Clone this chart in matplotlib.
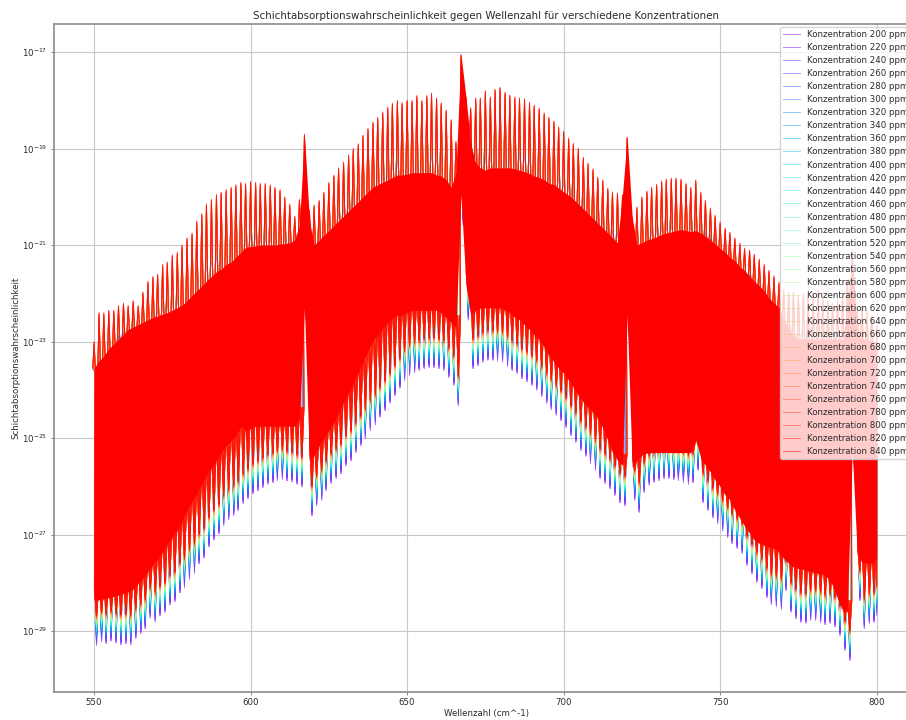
import numpy as np
import matplotlib
matplotlib.use("Agg")
import matplotlib.pyplot as plt

# concentrations in ppm
concentrations = [200, 220, 240, 260, 280, 300, 320, 340, 360, 380, 400,
                  420, 440, 460, 480, 500, 520, 540, 560, 580, 600, 620,
                  640, 660, 680, 700, 720, 740, 760, 780, 800, 820, 840]

# absorption lines, wavenumber in cm^-1
wavenumbers = [550.0, 551.6, 553.1, 554.7, 556.3, 557.8, 559.4, 560.9,
               562.5, 564.1, 565.6, 567.2, 568.8, 570.3, 571.9, 573.4,
               575.0, 576.6, 578.1, 579.7, 581.3, 582.8, 584.4, 585.9,
               587.5, 589.1, 590.6, 592.2, 593.8, 595.3, 596.9, 598.4,
               600.0, 601.6, 603.1, 604.7, 606.3, 607.8, 609.4, 610.9,
               612.5, 614.1, 615.6, 617.2, 618.8, 620.3, 621.9, 623.4,
               625.0, 626.6, 628.1, 629.7, 631.3, 632.8, 634.4, 635.9,
               637.5, 639.1, 640.6, 642.2, 643.8, 645.3, 646.9, 648.4,
               650.0, 651.6, 653.1, 654.7, 656.3, 657.8, 659.4, 660.9,
               662.5, 664.1, 665.6, 667.2, 668.8, 670.3, 671.9, 673.4,
               675.0, 676.6, 678.1, 679.7, 681.3, 682.8, 684.4, 685.9,
               687.5, 689.1, 690.6, 692.2, 693.8, 695.3, 696.9, 698.4,
               700.0, 701.6, 703.1, 704.7, 706.3, 707.8, 709.4, 710.9,
               712.5, 714.1, 715.6, 717.2, 718.8, 720.3, 721.9, 723.4,
               725.0, 726.6, 728.1, 729.7, 731.3, 732.8, 734.4, 735.9,
               737.5, 739.1, 740.6, 742.2, 743.8, 745.3, 746.9, 748.4,
               750.0, 751.6, 753.1, 754.7, 756.3, 757.8, 759.4, 760.9,
               762.5, 764.1, 765.6, 767.2, 768.8, 770.3, 771.9, 773.4,
               775.0, 776.6, 778.1, 779.7, 781.3, 782.8, 784.4, 785.9,
               787.5, 789.1, 790.6, 792.2, 793.8, 795.3, 796.9, 798.4,
               800.0]

# log10 of the line tops at 840 ppm
peak_840 = [-23.0, -22.4, -22.4, -22.35, -22.35, -22.25, -22.2, -22.25, -22.15, -22.25,
            -21.97, -21.75, -21.65, -21.6, -21.4, -21.35, -21.2, -21.15, -21.0, -20.85,
            -20.75, -20.5, -20.35, -20.15, -20.05, -19.95, -19.9, -19.85, -19.8, -19.75,
            -19.7, -19.72, -19.68, -19.7, -19.72, -19.72, -19.75, -19.8, -19.85, -20.0,
            -20.15, -20.4, -20.05, -18.7, -20.27, -20.17, -20.07, -19.9, -19.7, -19.55,
            -19.4, -19.28, -19.13, -19.0, -18.9, -18.72, -18.58, -18.45, -18.35, -18.24,
            -18.14, -18.06, -18.0, -18.05, -18.0, -18.0, -17.9, -18.0, -17.9, -17.85,
            -17.95, -18.05, -18.2, -18.4, -18.85, -17.05, -17.93, -18.15, -17.95, -17.95,
            -17.8, -17.93, -17.77, -17.73, -17.83, -17.89, -17.93, -17.95, -17.97, -18.04,
            -18.1, -18.16, -18.26, -18.35, -18.43, -18.55, -18.64, -18.78, -18.89, -18.99,
            -19.18, -19.3, -19.42, -19.59, -19.65, -19.82, -19.9, -19.92, -19.96, -18.76,
            -20.42, -20.21, -20.0, -19.88, -19.8, -19.74, -19.67, -19.63, -19.61, -19.61,
            -19.63, -19.72, -19.8, -19.65, -19.9, -20.07, -20.23, -20.38, -20.52, -20.65,
            -20.73, -20.85, -20.96, -21.06, -21.1, -21.19, -21.29, -21.4, -21.52, -21.64,
            -21.77, -21.93, -21.97, -21.97, -22.04, -22.0, -22.04, -21.97, -21.93, -22.08,
            -22.14, -22.2, -22.14, -22.04, -21.73, -21.1, -22.35, -22.24, -22.35, -22.45,
            -22.66]

# log10 of the upper edge of the closed red band
band_top_log = [-23.55, -23.4, -23.3, -23.15, -23.05, -22.95, -22.85, -22.75, -22.7, -22.65,
                -22.6, -22.55, -22.5, -22.47, -22.43, -22.4, -22.35, -22.3, -22.25, -22.15,
                -22.05, -21.95, -21.85, -21.75, -21.65, -21.55, -21.5, -21.4, -21.35, -21.25,
                -21.15, -21.05, -21.03, -21.02, -21.0, -21.0, -21.0, -21.0, -20.98, -20.97,
                -20.95, -20.9, -20.6, -18.7, -20.5, -21.0, -20.9, -20.8, -20.7, -20.6,
                -20.5, -20.4, -20.3, -20.2, -20.1, -20.0, -19.9, -19.8, -19.75, -19.7,
                -19.65, -19.6, -19.55, -19.55, -19.53, -19.5, -19.5, -19.5, -19.5, -19.5,
                -19.55, -19.57, -19.65, -19.8, -19.5, -17.05, -17.93, -18.9, -19.3, -19.4,
                -19.45, -19.4, -19.4, -19.4, -19.4, -19.4, -19.42, -19.45, -19.48, -19.52,
                -19.57, -19.6, -19.65, -19.72, -19.75, -19.82, -19.9, -19.97, -20.05, -20.15,
                -20.25, -20.35, -20.45, -20.55, -20.65, -20.75, -20.85, -20.95, -19.95, -18.76,
                -20.42, -21.0, -20.95, -20.9, -20.87, -20.83, -20.78, -20.75, -20.73, -20.7,
                -20.68, -20.7, -20.72, -20.7, -20.75, -20.82, -20.9, -20.98, -21.07, -21.15,
                -21.25, -21.33, -21.45, -21.53, -21.65, -21.75, -21.85, -21.95, -22.1, -22.2,
                -22.3, -22.55, -22.72, -22.87, -22.95, -22.95, -22.95, -22.95, -22.95, -22.95,
                -22.95, -22.95, -22.95, -22.95, -22.3, -21.15, -22.8, -22.95, -22.95, -23.0,
                -23.0]

# log10 of the lower edge of the closed red band
band_low_log = [-28.35, -28.35, -28.33, -28.3, -28.28, -28.25, -28.22, -28.18, -28.12, -28.0,
                -27.9, -27.75, -27.62, -27.5, -27.35, -27.2, -27.05, -26.9, -26.7, -26.5,
                -26.3, -26.15, -25.95, -25.75, -25.6, -25.45, -25.3, -25.15, -25.05, -24.95,
                -24.75, -24.85, -24.8, -24.75, -24.75, -24.75, -24.75, -24.75, -24.75, -24.75,
                -24.75, -24.75, -24.6, -22.3, -25.46, -25.35, -25.15, -25.0, -24.83, -24.67,
                -24.46, -24.25, -24.05, -23.84, -23.63, -23.42, -23.18, -22.97, -22.87, -22.72,
                -22.6, -22.51, -22.45, -22.45, -22.4, -22.35, -22.35, -22.35, -22.35, -22.35,
                -22.35, -22.4, -22.5, -22.6, -22.7, -19.96, -21.83, -22.45, -22.35, -22.3,
                -22.3, -22.3, -22.3, -22.3, -22.35, -22.4, -22.5, -22.55, -22.65, -22.75,
                -22.85, -22.95, -23.11, -23.28, -23.42, -23.55, -23.65, -23.8, -23.94, -24.11,
                -24.25, -24.36, -24.46, -24.58, -24.79, -25.04, -25.29, -25.46, -25.56, -22.45,
                -25.6, -25.46, -25.35, -25.31, -25.3, -25.3, -25.3, -25.3, -25.3, -25.3,
                -25.3, -25.3, -25.3, -25.04, -25.41, -25.56, -25.7, -25.87, -26.0, -26.18,
                -26.28, -26.49, -26.66, -26.82, -26.97, -27.11, -27.18, -27.22, -27.26, -27.28,
                -27.36, -27.49, -27.59, -27.67, -27.7, -27.72, -27.75, -27.78, -27.8, -27.82,
                -27.9, -28.05, -28.32, -28.56, -28.6, -25.25, -27.42, -27.57, -27.59, -27.59,
                -27.49]

# log10 of the deepest points at 200 ppm
trough_200 = [-29.3, -29.22, -29.25, -29.2, -29.24, -29.27, -29.25, -29.28, -29.15, -29.05,
              -28.95, -28.72, -28.8, -28.68, -28.6, -28.45, -28.38, -28.2, -28.1, -27.92,
              -27.8, -27.6, -27.48, -27.25, -27.1, -26.98, -26.8, -26.68, -26.6, -26.5,
              -26.35, -26.25, -26.15, -26.08, -26.02, -25.95, -25.92, -25.88, -25.85, -25.88,
              -25.9, -25.95, -26.0, -22.91, -26.6, -26.39, -26.28, -26.08, -25.93, -25.83,
              -25.73, -25.56, -25.46, -25.29, -25.15, -25.0, -24.83, -24.71, -24.56, -24.42,
              -24.27, -24.11, -23.96, -23.8, -23.69, -23.63, -23.59, -23.55, -23.53, -23.53,
              -23.55, -23.59, -23.74, -23.9, -24.32, -20.59, -22.55, -23.55, -23.49, -23.42,
              -23.38, -23.38, -23.4, -23.42, -23.51, -23.59, -23.65, -23.76, -23.82, -23.9,
              -24.0, -24.13, -24.27, -24.4, -24.52, -24.63, -24.77, -24.94, -25.08, -25.25,
              -25.37, -25.52, -25.66, -25.83, -25.93, -26.04, -26.18, -26.33, -26.39, -23.18,
              -26.28, -26.53, -26.12, -25.97, -25.91, -25.87, -25.83, -25.83, -25.85, -25.87,
              -25.91, -25.95, -25.92, -25.66, -26.33, -26.49, -26.64, -26.76, -26.91, -27.05,
              -27.18, -27.28, -27.38, -27.63, -27.8, -27.98, -28.11, -28.3, -28.44, -28.48,
              -28.54, -28.15, -28.6, -28.73, -28.81, -28.83, -28.77, -28.77, -28.81, -28.86,
              -28.83, -28.9, -29.08, -29.39, -29.6, -25.87, -28.36, -28.94, -28.83, -28.81,
              -28.67]

x_ticks = [550, 600, 650, 700, 750, 800]
y_ticks = [1e-29, 1e-27, 1e-25, 1e-23, 1e-21, 1e-19, 1e-17]

x = np.array(wavenumbers)
peak = 10.0 ** np.array(peak_840)
band_top = 10.0 ** np.array(band_top_log)
band_low = 10.0 ** np.array(band_low_log)
trough = 10.0 ** np.array(trough_200)


def spectrum(conc):
    # every line cell: narrow top above the band, then a wedge down to the deepest point
    xs = []
    ys = []
    half = 0.68 * (0.4 + 0.6 * conc / 840)     # wedges of the low concentrations stay inside
    for i in range(len(x) - 1):
        t = trough[i] * conc / 200
        left = min(band_top[i], band_top[i - 1]) if i > 0 else band_top[i]
        right = min(band_top[i], band_top[i + 1])
        root = band_low[i] * 1.7               # start a little inside the band
        mid = x[i] + 0.78
        xs += [x[i] - 0.39, x[i], x[i] + 0.39, mid - half, mid, mid - half / 2,
               mid, mid + half / 2, mid, mid + half]
        ys += [left, peak[i] * conc / 840, right, root, t, root, t, root, t, root]
    xs += [x[-1], x[-1]]
    ys += [peak[-1] * conc / 840, trough[-1] * conc / 200]
    return xs, ys


plt.rcParams["text.color"] = "#2a2a2a"
plt.rcParams["axes.labelcolor"] = "#2a2a2a"
plt.rcParams["xtick.labelcolor"] = "#2a2a2a"
plt.rcParams["ytick.labelcolor"] = "#2a2a2a"

fig = plt.figure(figsize=(9.06, 7.2), dpi=100)
# the right edge of the axes sits outside the picture, as in the reference
ax = fig.add_axes([54 / 906, 28 / 720, 864 / 906, 668 / 720])

colors = plt.cm.rainbow(np.linspace(0, 1, len(concentrations)))
for conc, color in zip(concentrations, colors):
    xs, ys = spectrum(conc)
    ax.plot(xs, ys, color=color, alpha=0.5, linewidth=0.7,
            label=f"Konzentration {conc} ppm")

# closed part of the spectrum, where the lines overlap to plain red
ax.fill_between(x, band_low, band_top, color="red", linewidth=0, zorder=3)

ax.set_yscale("log")
ax.set_xlim(537.2, 813.2)
ax.set_ylim(10.0 ** -30.26, 10.0 ** -16.42)
ax.set_xticks(x_ticks)
ax.set_yticks(y_ticks)
ax.minorticks_off()
ax.tick_params(labelsize=6.2, length=2.2, width=0.5, color="#555555", pad=2.4)
ax.grid(True, linewidth=0.8, color="#c8c8c8")
for spine in ax.spines.values():
    spine.set_color("#8c8c8c")
    spine.set_linewidth(1.2)

ax.set_xlabel("Wellenzahl (cm^-1)", fontsize=6.2, labelpad=1.5)
ax.set_ylabel("Schichtabsorptionswahrscheinlichkeit", fontsize=6.2, labelpad=1.5)
ax.set_title("Schichtabsorptionswahrscheinlichkeit gegen Wellenzahl für verschiedene Konzentrationen",
             fontsize=7.41, pad=3.8)
ax.legend(loc="upper right", bbox_to_anchor=(1 - 3 / 864, 1), fontsize=6.2, edgecolor="#cccccc",
          labelspacing=0.465, borderpad=0.35, borderaxespad=0.4)

fig.savefig("out.png", dpi=100)
